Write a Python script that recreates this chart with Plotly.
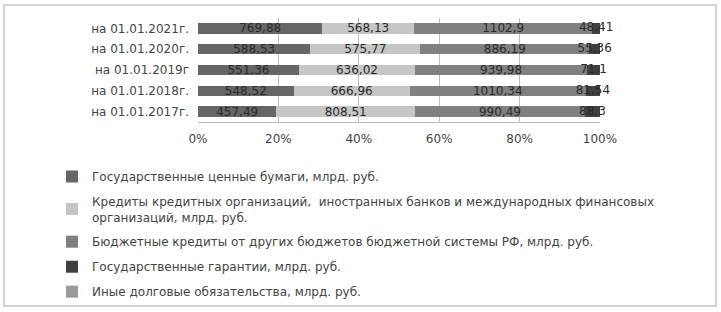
import plotly.graph_objects as go

categories = ["на 01.01.2017г.", "на 01.01.2018г.", "на 01.01.2019г", "на 01.01.2020г.", "на 01.01.2021г."]
gov_securities = [457.49, 548.52, 551.36, 588.53, 769.88]
bank_credits = [808.51, 666.96, 636.02, 575.77, 568.13]
budget_credits = [990.49, 1010.34, 939.98, 886.19, 1102.9]
gov_guarantees = [88.3, 81.54, 71.1, 55.36, 48.41]
other_debt = [0, 0, 0, 0, 0]
pct_ticks = [0, 20, 40, 60, 80, 100]
pct_labels = ["0%", "20%", "40%", "60%", "80%", "100%"]

series_names = [
    "Государственные ценные бумаги, млрд. руб.",
    "Кредиты кредитных организаций,  иностранных банков и международных финансовых<br>организаций, млрд. руб.",
    "Бюджетные кредиты от других бюджетов бюджетной системы РФ, млрд. руб.",
    "Государственные гарантии, млрд. руб.",
    "Иные долговые обязательства, млрд. руб.",
]
series_values = [gov_securities, bank_credits, budget_credits, gov_guarantees, other_debt]
colors = ["#666666", "#c6c6c6", "#808080", "#404040", "#9a9a9a"]

W, H = 721, 312
ml, mr, mt, mb = 198, 121, 18, 190
pw, ph = W - ml - mr, H - mt - mb

FONT = "DejaVu Sans, Liberation Sans, Arial, sans-serif"

def fmt(v):
    return f"{v:g}".replace(".", ",") if v else ""

def px(x):
    return (x - ml) / pw

def py(y):
    return (H - mb - y) / ph

totals = [sum(s[k] for s in series_values) for k in range(len(categories))]

fig = go.Figure()
for i, (name, vals, col) in enumerate(zip(series_names, series_values, colors)):
    small = i == 3
    fig.add_trace(go.Bar(
        y=categories, x=vals, name=name, orientation="h",
        marker=dict(color=col, line=dict(width=0)),
        text=None if small else [fmt(v) for v in vals],
        textposition="inside", insidetextanchor="middle",
        textangle=0, constraintext="none",
        textfont=dict(color="#2a2a2a", size=12, family=FONT),
        legendgroup=f"g{i}", cliponaxis=False,
    ))

# labels for the thin "guarantees" segments, centred on each segment
cum_before = [sum(series_values[j][k] for j in range(3)) for k in range(len(categories))]
fig.add_trace(go.Scatter(
    y=categories,
    x=[100 * (cb + g / 2) / t for cb, g, t in zip(cum_before, gov_guarantees, totals)],
    mode="text", text=[fmt(v) for v in gov_guarantees],
    textfont=dict(color="#2a2a2a", size=12, family=FONT), showlegend=False, cliponaxis=False,
    hoverinfo="skip",
))

fig.update_layout(
    width=W, height=H,
    margin=dict(l=ml, r=mr, t=mt, b=mb, autoexpand=False),
    barmode="stack", barnorm="percent", bargap=0.5,
    uniformtext=dict(minsize=9, mode="show"),
    paper_bgcolor="white", plot_bgcolor="white",
    font=dict(family=FONT, size=12, color="#333333"),
    xaxis=dict(range=[0, 100], tickmode="array", tickvals=pct_ticks, ticktext=pct_labels,
               showgrid=True, gridcolor="#bdbdbd", gridwidth=1, zeroline=False,
               showline=True, linecolor="#bdbdbd", tickfont=dict(size=12, color="#444444"),
               ticklabelstandoff=6, automargin=False),
    yaxis=dict(showgrid=False, showline=False, ticks="", ticklabelstandoff=8,
               tickfont=dict(size=12, color="#444444"), automargin=False),
    showlegend=True,
    legend=dict(x=px(52), y=py(162),
                xanchor="left", yanchor="top", traceorder="grouped",
                tracegroupgap=6, font=dict(size=12, color="#444444", family=FONT),
                itemwidth=30, bgcolor="rgba(0,0,0,0)"),
    shapes=[dict(type="rect", xref="paper", yref="paper",
                 x0=px(4), x1=px(716), y0=py(5), y1=py(306),
                 line=dict(color="#c8c8c8", width=1.5), layer="above")],
)

fig.write_html("out.html", config={"displayModeBar": False},
               post_script="document.body.style.margin='0px';")
